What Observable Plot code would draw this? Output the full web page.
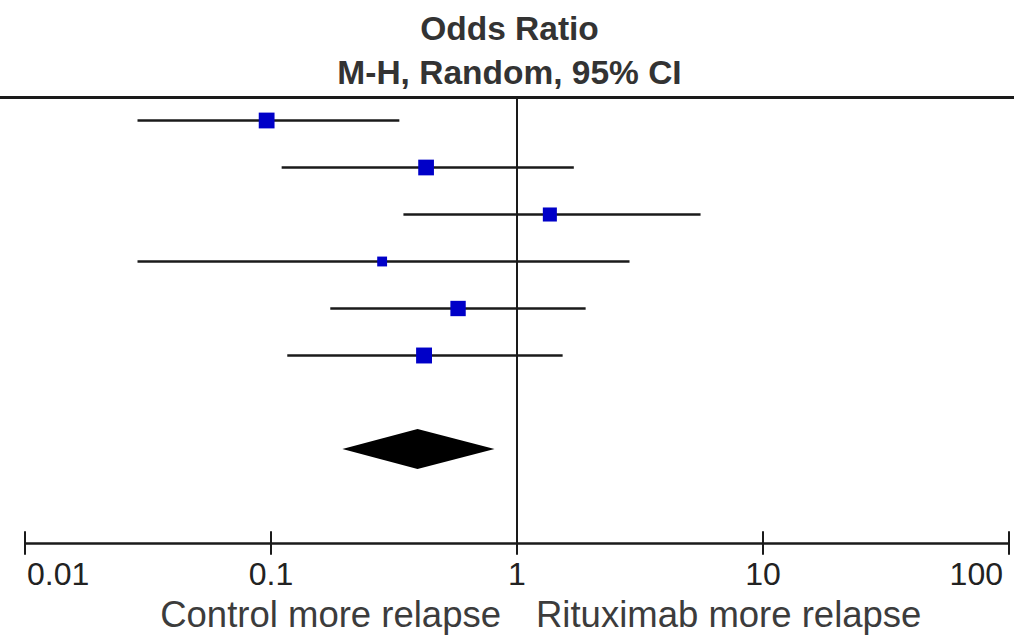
<!DOCTYPE html>
<html>
<head>
<meta charset="utf-8">
<script src="https://cdn.jsdelivr.net/npm/d3@7"></script>
<script src="https://cdn.jsdelivr.net/npm/@observablehq/plot@0.6"></script>
<style>
  html, body { margin: 0; padding: 0; background: #fff; }
  #wrap { width: 1014px; height: 635px; overflow: hidden; }
  #head { height: 95px; box-sizing: border-box; padding-top: 7px; text-align: center;
          font-family: "Liberation Sans", Arial, sans-serif; font-weight: bold; font-size: 33.5px;
          line-height: 44px; color: #333; }
  #head div { padding-left: 5px; }
  svg { display: block; }
</style>
</head>
<body>
<div id="wrap">
  <div id="head">
    <div>Odds Ratio</div>
    <div>M-H, Random, 95% CI</div>
  </div>
  <div id="chart"></div>
</div>
<script>
// ---- data ----
const studyRows = [1, 2, 3, 4, 5, 6];
const oddsRatio = [0.096, 0.427, 1.36, 0.283, 0.576, 0.419];
const ciLower   = [0.0288, 0.111, 0.347, 0.0288, 0.175, 0.117];
const ciUpper   = [0.334, 1.71, 5.6, 2.88, 1.91, 1.54];
const weights   = [19.5, 19.3, 15.4, 7.6, 18.4, 19.8];

const pooledRow = 8;
const pooledOR = 0.396;
const pooledLower = 0.196;
const pooledUpper = 0.814;

const tickValues = [0.01, 0.1, 1, 10, 100];
const tickLabels = ["0.01", "0.1", "1", "10", "100"];

const favoursLeft = "Control more relapse";
const favoursRight = "Rituximab more relapse";

// ---- build tables ----
const studies = studyRows.map((row, i) => ({
  row, or: oddsRatio[i], lo: ciLower[i], hi: ciUpper[i], w: weights[i]
}));
const diamondHalf = 0.426;
const diamond = [
  {y: pooledRow - diamondHalf, x1: pooledOR, x2: pooledOR},
  {y: pooledRow, x1: pooledLower, x2: pooledUpper},
  {y: pooledRow + diamondHalf, x1: pooledOR, x2: pooledOR}
];
const ticks = tickValues.map((v, i) => ({v, label: tickLabels[i]}));

const axisY = 10;
const topY = 0.511;
const font = "Liberation Sans, Arial, sans-serif";

const chart = Plot.plot({
  width: 1014,
  height: 540,
  marginLeft: 0, marginRight: 0, marginTop: 0, marginBottom: 0,
  style: {fontFamily: font, background: "#fff", overflow: "visible"},
  x: {type: "log", domain: [0.01, 100], range: [24.5, 1008.5], axis: null},
  y: {type: "linear", domain: [1, 8], range: [25, 354], axis: null},
  r: {type: "sqrt", domain: [0, 20], range: [0, 9.03]},
  marks: [
    // top border rule
    Plot.ruleY([topY], {stroke: "#1a1a1a", strokeWidth: 2.8}),
    // line of no effect
    Plot.ruleX([1], {y1: topY, y2: axisY, stroke: "#1a1a1a", strokeWidth: 2}),
    // x axis line
    Plot.ruleY([axisY], {x1: tickValues[0], x2: tickValues[tickValues.length - 1], stroke: "#1a1a1a", strokeWidth: 2.4}),
    // x ticks
    Plot.ruleX(ticks, {x: "v", y1: axisY - 0.25, y2: axisY + 0.25, stroke: "#1a1a1a", strokeWidth: 2}),
    // tick labels
    Plot.text(ticks.slice(0, 1), {x: "v", y: axisY, text: "label", dy: 31, dx: 2, textAnchor: "start", fontSize: 32, fill: "#222"}),
    Plot.text(ticks.slice(1, -1), {x: "v", y: axisY, text: "label", dy: 31, textAnchor: "middle", fontSize: 32, fill: "#222"}),
    Plot.text(ticks.slice(-1), {x: "v", y: axisY, text: "label", dy: 31, dx: -6, textAnchor: "end", fontSize: 32, fill: "#222"}),
    // favours labels
    Plot.text([favoursLeft], {x: 1, y: axisY, text: d => d, dy: 72, dx: -16, textAnchor: "end", fontSize: 36.5, fill: "#3c3c3c"}),
    Plot.text([favoursRight], {x: 1, y: axisY, text: d => d, dy: 72, dx: 19, textAnchor: "start", fontSize: 36.5, fill: "#3c3c3c"}),
    // confidence intervals
    Plot.ruleY(studies, {y: "row", x1: "lo", x2: "hi", stroke: "#1a1a1a", strokeWidth: 2.6}),
    // study estimates
    Plot.dot(studies, {x: "or", y: "row", r: "w", symbol: "square", fill: "#0000c8", stroke: "none"}),
    // pooled diamond
    Plot.areaX(diamond, {y: "y", x1: "x1", x2: "x2", fill: "#000", curve: "linear"})
  ]
});
document.getElementById("chart").appendChild(chart);
</script>
</body>
</html>
